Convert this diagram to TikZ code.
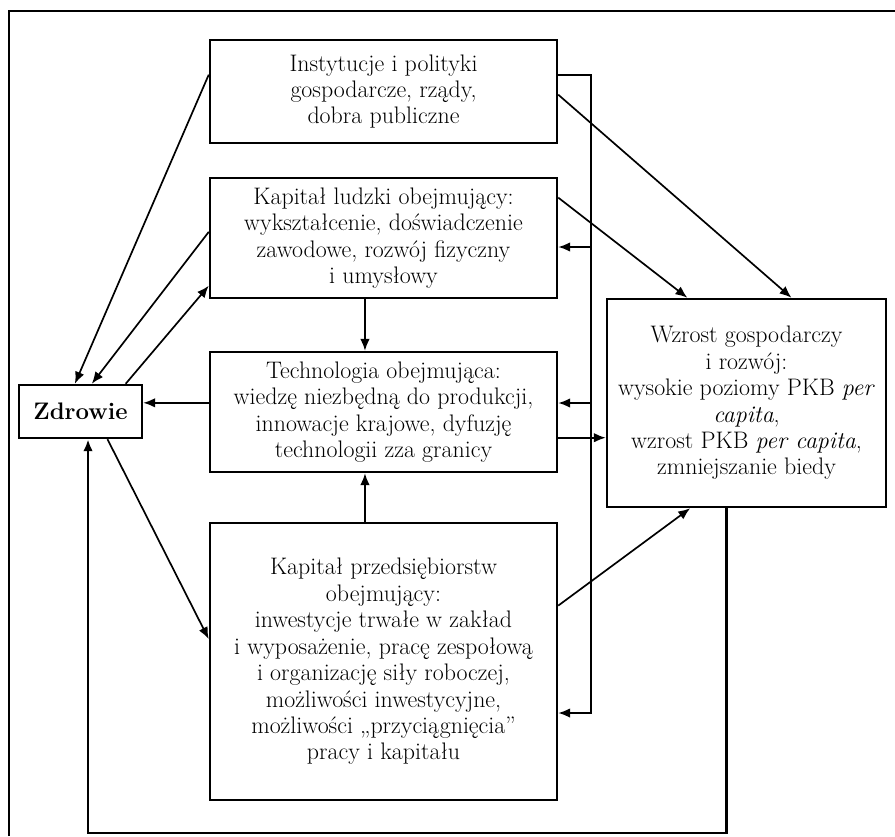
\documentclass[tikz,border=0pt]{standalone}
\usepackage{fontspec}
\usetikzlibrary{arrows.meta,calc}

\tikzset{
  box/.style={draw, line width=1.7pt, align=center, inner sep=2pt,
    font=\fontsize{17}{18.8}\selectfont},
  link/.style={line width=1.2pt, -{Latex[length=3mm,width=2.4mm]}},
}

\begin{document}
\begin{tikzpicture}[x=0.025cm, y=-0.025cm]
\useasboundingbox (0,0) rectangle (895,836);

% Frame of the figure
\draw[line width=1pt] (9,836) -- (9,11) -- (895,11);

% Boxes
\node[box, minimum width=8.675cm, minimum height=2.575cm] (inst) at (383.5,91.5)
  {Instytucje i polityki\\ gospodarcze, rządy,\\ dobra publiczne};
\node[box, minimum width=8.675cm, minimum height=3cm] (ludzki) at (383.5,238)
  {Kapitał ludzki obejmujący:\\ wykształcenie, doświadczenie\\ zawodowe, rozwój fizyczny\\ i umysłowy};
\node[box, minimum width=8.675cm, minimum height=3cm] (tech) at (383.5,412)
  {Technologia obejmująca:\\ wiedzę niezbędną do produkcji,\\ innowacje krajowe, dyfuzję\\ technologii zza granicy};
\node[box, minimum width=8.675cm, minimum height=6.925cm] (przeds) at (383.5,661.5)
  {Kapitał przedsiębiorstw\\ obejmujący:\\ inwestycje trwałe w zakład\\ i wyposażenie, pracę zespołową\\
   i organizację siły roboczej,\\ możliwości inwestycyjne,\\ możliwości „przyciągnięcia”\\ pracy i kapitału};
\node[box, minimum width=3.075cm, minimum height=1.325cm, font=\fontsize{17}{18.8}\selectfont\bfseries] (zdrowie) at (80.5,411.5)
  {Zdrowie};
\node[box, minimum width=6.975cm, minimum height=5.2cm] (wzrost) at (746.5,403)
  {Wzrost gospodarczy\\ i rozwój:\\ wysokie poziomy PKB \textit{per}\\ \textit{capita},\\ wzrost PKB \textit{per capita},\\ zmniejszanie biedy};

% Feedback line on the right of the column
\coordinate (vtop) at (591,75);   % leaves Instytucje
\coordinate (vlud) at (591,247);  % to Kapitał ludzki
\coordinate (vtech) at (591,403); % to Technologia
\coordinate (vbot) at (591,713);  % to Kapitał przedsiębiorstw
\coordinate (bottom) at (0,833);  % level of the lower loop

\draw[link] (inst.east |- vtop) -- (vtop) -- (vbot) -- (vbot -| przeds.east);
\draw[link] (vlud) -- (vlud -| ludzki.east);
\draw[link] (vtech) -- (vtech -| tech.east);

% Into Wzrost
\draw[link] ($(inst.north east)!0.53!(inst.south east)$) -- ($(wzrost.north west)!0.66!(wzrost.north east)$);
\draw[link] ($(ludzki.north east)!0.17!(ludzki.south east)$) -- ($(wzrost.north west)!0.29!(wzrost.north east)$);
\coordinate (t2) at ($(tech.north east)!0.71!(tech.south east)$);
\draw[link] (t2) -- (t2 -| wzrost.west);
\draw[link] ($(przeds.north east)!0.30!(przeds.south east)$) -- ($(wzrost.south west)!0.30!(wzrost.south east)$);

% Around Zdrowie
\coordinate (t1) at ($(tech.north west)!0.425!(tech.south west)$);
\draw[link] (t1) -- (t1 -| zdrowie.east);
\draw[link] ($(inst.north west)!0.34!(inst.south west)$) -- ($(zdrowie.north west)!0.455!(zdrowie.north east)$);
\draw[link] ($(ludzki.north west)!0.45!(ludzki.south west)$) -- ($(zdrowie.north west)!0.59!(zdrowie.north east)$);
\draw[link] ($(zdrowie.north west)!0.86!(zdrowie.north east)$) -- ($(ludzki.north west)!0.89!(ludzki.south west)$);
\draw[link] ($(zdrowie.south west)!0.715!(zdrowie.south east)$) -- ($(przeds.north west)!0.42!(przeds.south west)$);

% Middle column
\coordinate (mid) at ($(ludzki.south west)!0.447!(ludzki.south east)$);
\draw[link] (mid) -- (mid |- tech.north);
\draw[link] (mid |- przeds.north) -- (mid |- tech.south);

% Loop from Wzrost back to Zdrowie
\coordinate (wout) at ($(wzrost.south west)!0.43!(wzrost.south east)$);
\coordinate (zin) at ($(zdrowie.south west)!0.56!(zdrowie.south east)$);
\draw[link, line width=2pt] (wout) -- (wout |- bottom) -- (zin |- bottom) -- (zin);

\end{tikzpicture}
\end{document}
